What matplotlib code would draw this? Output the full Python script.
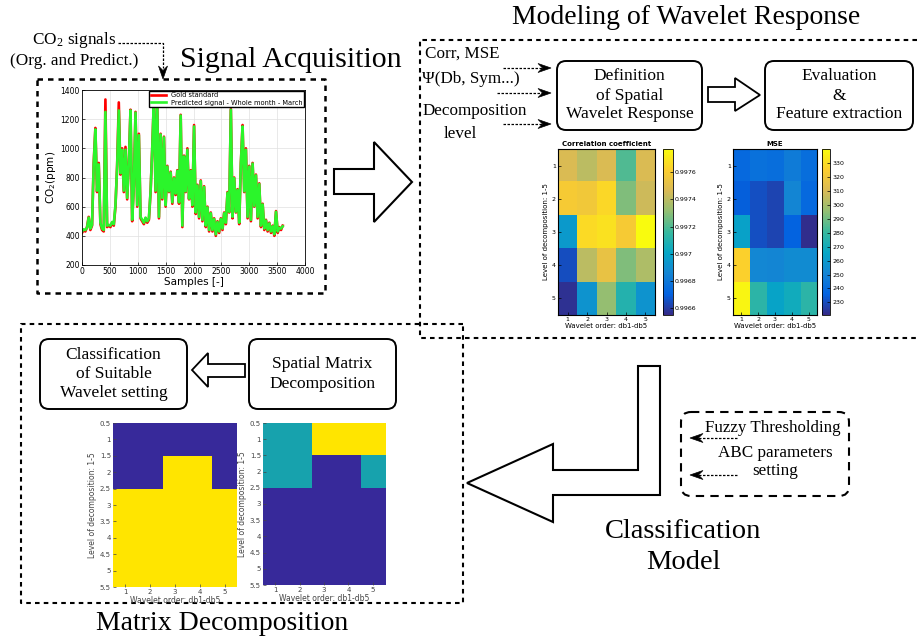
import matplotlib.pyplot as plt
import numpy as np
from matplotlib.patches import Polygon, FancyBboxPatch
from matplotlib.colors import LinearSegmentedColormap, ListedColormap

plt.rcParams['mathtext.fontset'] = 'stix'

# ---- data ----
# CO2 signal, one value every 30 samples
gold = [420, 440, 430, 460, 530, 440, 470, 900, 1140, 700,
        900, 480, 440, 430, 1335, 460, 470, 460, 490, 470,
        600, 880, 1315, 820, 1000, 700, 1010, 650, 900, 1265,
        500, 750, 1250, 600, 1100, 520, 500, 480, 520, 490,
        510, 700, 1000, 1345, 700, 1300, 520, 1100, 650, 1080,
        600, 880, 700, 840, 620, 800, 680, 850, 620, 1230,
        460, 950, 700, 1000, 650, 850, 600, 1160, 550, 750,
        520, 780, 500, 740, 460, 600, 430, 560, 430, 520,
        400, 500, 420, 520, 440, 560, 480, 700, 560, 1270,
        520, 800, 560, 720, 480, 900, 1160, 700, 1000, 520,
        880, 500, 900, 600, 820, 520, 760, 460, 620, 440,
        510, 430, 490, 420, 470, 400, 570, 420, 460, 440,
        470]
pred = [430, 445, 440, 455, 525, 450, 475, 890, 1130, 710,
        890, 490, 450, 440, 1250, 470, 475, 470, 495, 480,
        610, 870, 1260, 830, 990, 710, 990, 660, 895, 1260,
        510, 745, 1245, 610, 1090, 530, 510, 490, 525, 500,
        520, 705, 995, 1340, 710, 1290, 530, 1095, 660, 1075,
        610, 875, 705, 835, 630, 795, 690, 845, 630, 1225,
        470, 945, 705, 990, 655, 845, 610, 1150, 560, 745,
        530, 775, 510, 735, 470, 595, 440, 555, 440, 515,
        410, 495, 430, 515, 450, 555, 490, 695, 565, 1265,
        530, 795, 565, 715, 490, 895, 1150, 705, 990, 530,
        875, 510, 895, 605, 815, 530, 755, 470, 615, 450,
        505, 440, 485, 430, 465, 410, 565, 430, 455, 450,
        465]
samples = np.arange(len(gold)) * 30

# wavelet response (rows: level 1-5, cols: db1-db5)
corr = [[0.99747, 0.99740, 0.99747, 0.99720, 0.99747],
        [0.99759, 0.99757, 0.99765, 0.99728, 0.99744],
        [0.99695, 0.99766, 0.99768, 0.99759, 0.99777],
        [0.99665, 0.99740, 0.99753, 0.99728, 0.99737],
        [0.99657, 0.99692, 0.99732, 0.99710, 0.99692]]
mse = [[239, 242, 241, 247, 241],
       [235, 231, 228, 251, 239],
       [263, 231, 228, 236, 222],
       [326, 252, 251, 254, 254],
       [338, 277, 264, 269, 277]]
corr_ticks = [0.9966, 0.9968, 0.997, 0.9972, 0.9974, 0.9976]
mse_ticks = [230, 240, 250, 260, 270, 280, 290, 300, 310, 320, 330]

# decomposition matrices
mat_left = [[0, 0, 0, 0, 0],
            [0, 0, 1, 1, 0],
            [1, 1, 1, 1, 1],
            [1, 1, 1, 1, 1],
            [1, 1, 1, 1, 1]]
mat_right = [[0.5, 0.5, 1, 1, 1],
             [0.5, 0.5, 0, 0, 0.5],
             [0, 0, 0, 0, 0],
             [0, 0, 0, 0, 0],
             [0, 0, 0, 0, 0]]
mat_yticks = [0.5, 1, 1.5, 2, 2.5, 3, 3.5, 4, 4.5, 5, 5.5]
mat_ylabels = ['0.5', '1', '1.5', '2', '2.5', '3', '3.5', '4', '4.5', '5', '5.5']

# ---- figure in pixel coordinates ----
W, H = 917, 641
fig = plt.figure(figsize=(W / 100, H / 100), dpi=100)
bg = fig.add_axes([0, 0, 1, 1])
bg.set_xlim(0, W)
bg.set_ylim(H, 0)
bg.axis('off')

SERIF = 'Liberation Serif'
parula = LinearSegmentedColormap.from_list('parula', [
    '#352A87', '#0363E1', '#1485D4', '#06A7C6', '#38B99E',
    '#92BF73', '#D9BA56', '#FCCE2E', '#F9FB0E'])
mat_cmap = ListedColormap(['#37299A', '#17A2AD', '#FFE500'])


def px_axes(x0, y0, x1, y1):
    return fig.add_axes([x0 / W, 1 - y1 / H, (x1 - x0) / W, (y1 - y0) / H])


def dashed(xs, ys, lw=1.8, dash=(2.2, 2.0)):
    bg.plot(xs, ys, color='k', lw=lw, ls=(0, dash), solid_capstyle='butt')


def head(x, y, ux, uy, L=13, Wd=4.5):
    nx, ny = -uy, ux
    pts = [(x, y),
           (x - L * ux + Wd * nx, y - L * uy + Wd * ny),
           (x - 0.65 * L * ux, y - 0.65 * L * uy),
           (x - L * ux - Wd * nx, y - L * uy - Wd * ny)]
    bg.add_patch(Polygon(pts, closed=True, fc='k', ec='k', lw=0.5))


def dash_arrow(x0, y0, x1, y1):
    d = np.hypot(x1 - x0, y1 - y0)
    ux, uy = (x1 - x0) / d, (y1 - y0) / d
    bg.plot([x0, x1 - 8 * ux], [y0, y1 - 8 * uy], color='k', lw=0.9, ls=(0, (2, 1.2)))
    head(x1, y1, ux, uy)


def block_arrow(pts, lw=1.5):
    bg.add_patch(Polygon(pts, closed=True, fc='white', ec='k', lw=lw, joinstyle='miter'))


def rbox(x0, y0, x1, y1, text, fs=12.5):
    bg.add_patch(FancyBboxPatch((x0, y0), x1 - x0, y1 - y0,
                                boxstyle='round,pad=0,rounding_size=9',
                                fc='white', ec='k', lw=1.4))
    bg.text((x0 + x1) / 2, (y0 + y1) / 2, text, ha='center', va='center',
            fontsize=fs, family=SERIF, linespacing=1.25)


# dashed frames
dashed([37, 325, 325, 37, 37], [79, 79, 293, 293, 79])
dashed([917, 420, 420, 917], [40, 40, 338, 338], lw=1.5)
dashed([463, 21, 21, 463, 463], [324, 324, 603, 603, 324], lw=1.5)
bg.add_patch(FancyBboxPatch((681, 412), 168, 84, boxstyle='round,pad=0,rounding_size=10',
                            fc='none', ec='k', lw=1.5, ls=(0, (4, 3))))

# titles
bg.text(180, 60, 'Signal Acquisition', fontsize=21.5, family=SERIF, va='center')
bg.text(686, 18, 'Modeling of Wavelet Response', fontsize=20, family=SERIF,
        ha='center', va='center')
bg.text(683, 547, 'Classification\nModel', fontsize=20.5, family=SERIF,
        ha='center', va='center', linespacing=1.35)
bg.text(222, 624, 'Matrix Decomposition', fontsize=20, family=SERIF,
        ha='center', va='center')

# signal inputs
bg.text(74, 40, r'CO$_\mathregular{2}$ signals', fontsize=12.3, family=SERIF,
        ha='center', va='center')
bg.text(74, 61, '(Org. and Predict.)', fontsize=12.3, family=SERIF,
        ha='center', va='center')
bg.plot([118, 163, 163], [43, 43, 68], color='k', lw=0.9, ls=(0, (2, 1.2)))
head(163, 79, 0, 1)

# modeling inputs
bg.text(425, 54, 'Corr, MSE', fontsize=12.3, family=SERIF, va='center')
bg.text(422, 79, 'Ψ(Db, Sym...)', fontsize=12.3, family=SERIF, va='center')
bg.text(423, 111, 'Decomposition', fontsize=12.3, family=SERIF, va='center')
bg.text(460, 134, 'level', fontsize=12.3, family=SERIF, va='center', ha='center')
dash_arrow(503, 68, 551, 68)
dash_arrow(497, 93, 551, 93)
dash_arrow(503, 124, 551, 124)

rbox(557, 61, 702, 130, 'Definition\nof Spatial\nWavelet Response')
rbox(765, 61, 913, 130, 'Evaluation\n&\nFeature extraction')
rbox(40, 339, 187, 409, 'Classification\nof Suitable\nWavelet setting')
rbox(249, 339, 396, 409, 'Spatial Matrix\nDecomposition')

# block arrows
block_arrow([(334, 169), (374, 169), (374, 142), (412, 182), (374, 222), (374, 194), (334, 194)])
block_arrow([(708, 87), (735, 87), (735, 78), (760, 95), (735, 111), (735, 102), (708, 102)], lw=1.3)
block_arrow([(245, 364), (208, 364), (208, 353), (192, 370), (208, 387), (208, 377), (245, 377)], lw=1.3)
block_arrow([(638, 366), (660, 366), (660, 495), (553, 495), (553, 522), (467, 483),
             (553, 444), (553, 470), (638, 470)])

# classification inputs
bg.text(773, 428, 'Fuzzy Thresholding', fontsize=12.2, family=SERIF, ha='center', va='center')
bg.text(775, 462, 'ABC parameters\nsetting', fontsize=12.3, family=SERIF, ha='center',
        va='center', linespacing=1.2)
dash_arrow(737, 438, 690, 438)
dash_arrow(737, 475, 690, 475)

# ---- CO2 signal plot ----
ax1 = px_axes(82, 90, 305, 265)
ax1.plot(samples, gold, color='red', lw=1.9, label='Gold standard')
ax1.plot(samples, pred, color='#2BF52B', lw=1.9, label='Predicted signal - Whole month - March')
ax1.set_xlim(0, 4000)
ax1.set_ylim(200, 1400)
ax1.set_xticks(np.arange(0, 4001, 500))
ax1.set_yticks(np.arange(200, 1401, 200))
ax1.grid(color='#E0E0E0', lw=0.5)
ax1.tick_params(labelsize=5.5, direction='in', length=2, width=0.5, pad=1.5)
ax1.set_xlabel('Samples [-]', fontsize=7.5, labelpad=1)
ax1.set_ylabel(r'CO$_\mathregular{2}$(ppm)', fontsize=7.5, labelpad=2)
for s in ax1.spines.values():
    s.set_linewidth(0.6)
ax1.legend(loc='upper right', fontsize=4.8, frameon=True, fancybox=False,
           edgecolor='k', framealpha=1, borderpad=0.25, handlelength=2.2,
           borderaxespad=0.1, labelspacing=0.2)


# ---- heatmaps ----
def heat(box, cbox, data, title, vmin, vmax, ticks, labels):
    ax = px_axes(*box)
    im = ax.imshow(data, cmap=parula, vmin=vmin, vmax=vmax, aspect='auto',
                   extent=(0.5, 5.5, 5.5, 0.5), interpolation='nearest')
    ax.set_xticks([1, 2, 3, 4, 5])
    ax.set_yticks([1, 2, 3, 4, 5])
    ax.tick_params(labelsize=4.5, direction='in', length=2, width=0.5, pad=1.5)
    ax.set_title(title, fontsize=5, fontweight='bold', pad=2)
    ax.set_xlabel('Wavelet order: db1-db5', fontsize=5, labelpad=1)
    ax.set_ylabel('Level of decomposition: 1-5', fontsize=5, labelpad=2)
    cax = px_axes(*cbox)
    cb = fig.colorbar(im, cax=cax)
    cb.set_ticks(ticks)
    cb.set_ticklabels(labels)
    cb.ax.tick_params(labelsize=4.5, direction='in', length=2, width=0.5, pad=1.5)
    cb.outline.set_linewidth(0.6)


heat((558, 149, 655, 315), (663, 149, 673, 315), corr, 'Correlation coefficient',
     0.99655, 0.99777, corr_ticks, [str(t) for t in corr_ticks])
heat((733, 149, 817, 315), (822, 149, 830, 315), mse, 'MSE',
     221, 340, mse_ticks, [str(t) for t in mse_ticks])


# ---- decomposition matrices ----
def matrix(box, data):
    ax = px_axes(*box)
    ax.imshow(data, cmap=mat_cmap, vmin=0, vmax=1, aspect='auto',
              extent=(0.5, 5.5, 5.5, 0.5), interpolation='nearest')
    ax.set_xticks([1, 2, 3, 4, 5])
    ax.set_yticks(mat_yticks)
    ax.set_yticklabels(mat_ylabels)
    ax.tick_params(labelsize=5, colors='#444444', direction='in', length=2, width=0.5, pad=1.5)
    ax.set_xlabel('Wavelet order: db1-db5', fontsize=5.5, color='#444444', labelpad=1)
    ax.set_ylabel('Level of decomposition: 1-5', fontsize=5.5, color='#444444', labelpad=2)
    for s in ax.spines.values():
        s.set_visible(False)


matrix((113, 423, 237, 587), mat_left)
matrix((263, 423, 385, 585), mat_right)

fig.savefig('out.png', dpi=100)
